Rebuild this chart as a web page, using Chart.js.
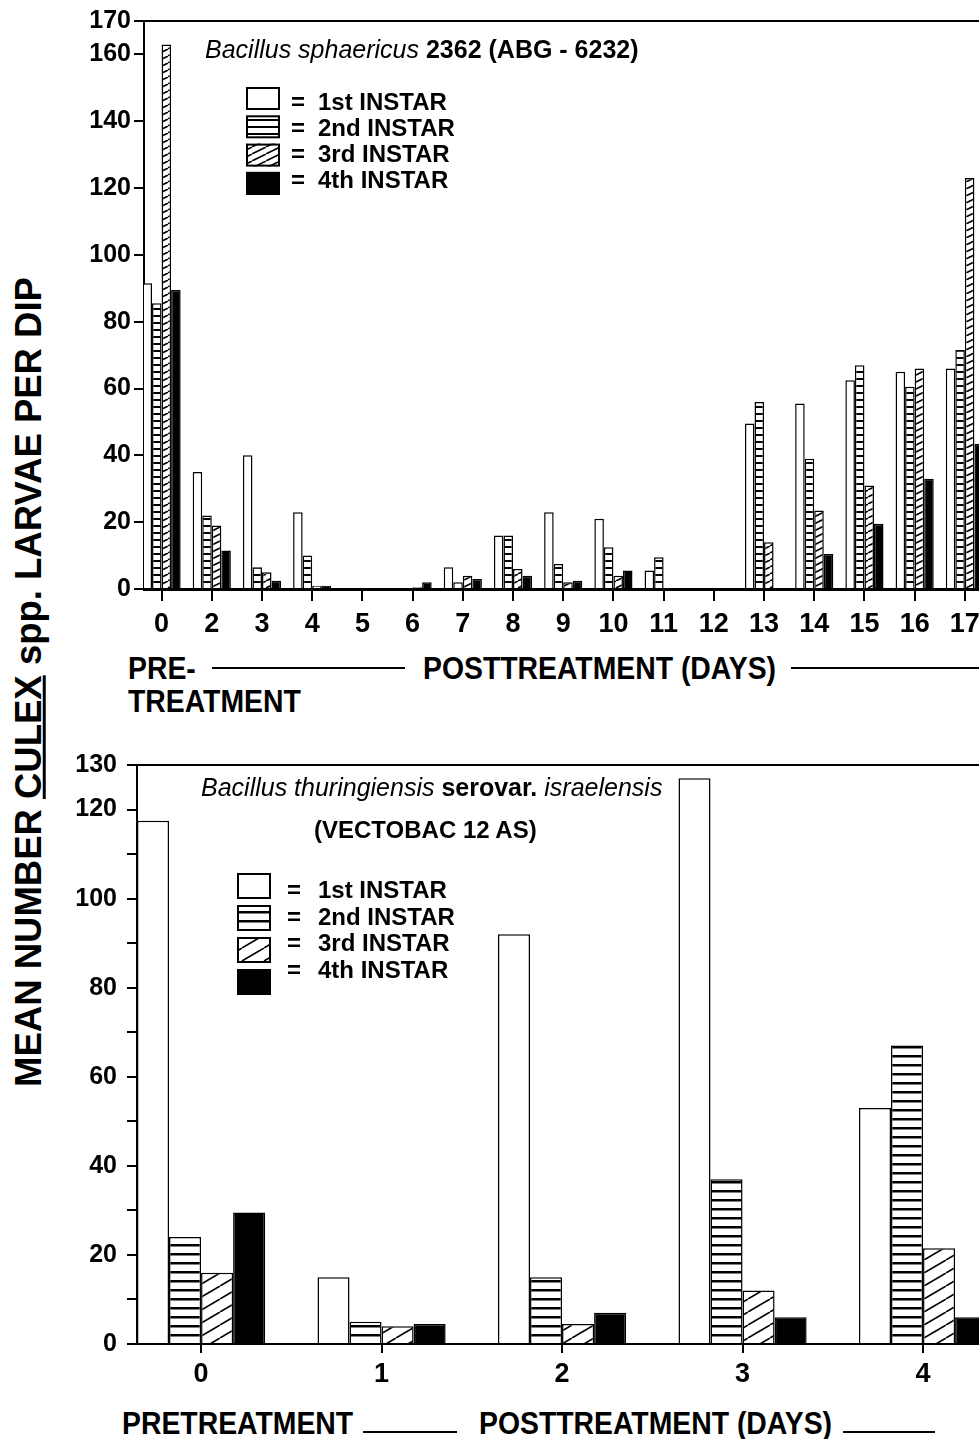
<!DOCTYPE html>
<html>
<head>
<meta charset="utf-8">
<title>Culex larvae per dip</title>
<script src="https://cdn.jsdelivr.net/npm/chart.js@4.4.1/dist/chart.umd.min.js"></script>
<style>
  html, body { margin: 0; padding: 0; background: #fff; }
  body { position: relative; width: 979px; height: 1439px; overflow: hidden;
         font-family: "Liberation Sans", Arial, sans-serif; color: #000; }
  canvas { position: absolute; left: 0; }
  .txt { position: absolute; white-space: nowrap; line-height: 1; }
  /* narrow bold captions under the axes */
  .cap { font-weight: bold; font-size: 31px; transform: scaleX(0.915); transform-origin: 0 0; }
  .rule { position: absolute; height: 2px; background: #000; }
  #ytitle { position: absolute; left: 29px; top: 682px; white-space: nowrap; line-height: 1;
            font-weight: bold; font-size: 36.5px; transform: translate(-50%, -50%) rotate(-90deg); }
</style>
</head>
<body>

<div id="ytitle">MEAN NUMBER <u>CULEX</u> spp. LARVAE PER DIP</div>

<canvas id="sphaericus" width="1000" height="640" style="top:0"></canvas>
<div class="txt" style="left:205px; top:37px; font-size:25px;"><i>Bacillus sphaericus</i> <b>2362 (ABG - 6232)</b></div>
<div class="txt cap" style="left:128px; top:653px;">PRE-</div>
<div class="rule" style="left:212px; width:193px; top:667px;"></div>
<div class="txt cap" style="left:423px; top:653px;">POSTTREATMENT (DAYS)</div>
<div class="rule" style="left:791px; width:200px; top:667px;"></div>
<div class="txt cap" style="left:128px; top:686px;">TREATMENT</div>

<canvas id="thuringiensis" width="1040" height="660" style="top:740px"></canvas>
<div class="txt" style="left:201px; top:775px; font-size:25px;"><i>Bacillus thuringiensis</i> <b>serovar.</b> <i>israelensis</i></div>
<div class="txt" style="left:314px; top:818px; font-size:24px;"><b>(VECTOBAC 12 AS)</b></div>
<div class="txt cap" style="left:122px; top:1408px;">PRETREATMENT</div>
<div class="rule" style="left:363px; width:94px; top:1431px;"></div>
<div class="txt cap" style="left:479px; top:1408px;">POSTTREATMENT (DAYS)</div>
<div class="rule" style="left:843px; width:92px; top:1431px;"></div>

<script>
const instars = ['1st INSTAR', '2nd INSTAR', '3rd INSTAR', '4th INSTAR'];

// B. sphaericus plot: pre-treatment (0) and post-treatment days
const spDays = ['0', '2', '3', '4', '5', '6', '7', '8', '9', '10', '11', '12', '13', '14', '15', '16', '17'];
const spFirst  = [91.5, 35, 40, 23, 0, 0, 6.5, 16, 23, 21, 5.5, 0, 49.5, 55.5, 62.5, 65, 66];
const spSecond = [85.5, 22, 6.5, 10, 0, 0, 2, 16, 7.5, 12.5, 9.5, 0, 56, 39, 67, 60.5, 71.5];
const spThird  = [163, 19, 5, 1, 0, 0.5, 4, 6, 2, 4, 0, 0, 14, 23.5, 31, 66, 123];
const spFourth = [89.5, 11.5, 2.5, 1, 0, 2, 3, 4, 2.5, 5.5, 0, 0, 0, 10.5, 19.5, 33, 43.5];
const spTicks  = [0, 20, 40, 60, 80, 100, 120, 140, 160, 170];

// B. thuringiensis israelensis plot
const btiDays   = ['0', '1', '2', '3', '4'];
const btiFirst  = [117.5, 15, 92, 127, 53];
const btiSecond = [24, 5, 15, 37, 67];
const btiThird  = [16, 4, 4.5, 12, 21.5];
const btiFourth = [29.5, 4.5, 7, 6, 6];
const btiTicks  = [0, 10, 20, 30, 40, 50, 60, 70, 80, 90, 100, 110, 120, 130];
const btiLabels = [0, 20, 40, 60, 80, 100, 120, 130];

function stripes(ctx, h, line) {
  const c = document.createElement('canvas');
  c.width = 8; c.height = h;
  const g = c.getContext('2d');
  g.fillStyle = '#fff'; g.fillRect(0, 0, 8, h);
  g.fillStyle = '#000'; g.fillRect(0, 0, 8, line);
  return ctx.createPattern(c, 'repeat');
}

function hatch(ctx, w, h, line) {
  const c = document.createElement('canvas');
  c.width = w; c.height = h;
  const g = c.getContext('2d');
  g.fillStyle = '#fff'; g.fillRect(0, 0, w, h);
  g.strokeStyle = '#000'; g.lineWidth = line;
  g.beginPath();
  for (const dx of [-w, 0, w]) { g.moveTo(dx, h); g.lineTo(dx + w, 0); }
  g.stroke();
  return ctx.createPattern(c, 'repeat');
}

// top and right edges of the plot box
const frame = {
  id: 'frame',
  afterDraw(chart) {
    const { ctx, chartArea: a } = chart;
    ctx.save();
    ctx.strokeStyle = '#000';
    ctx.lineWidth = 2;
    ctx.beginPath();
    ctx.moveTo(a.left, a.top);
    ctx.lineTo(a.right, a.top);
    ctx.lineTo(a.right, a.bottom);
    ctx.stroke();
    ctx.restore();
  }
};

// "box = label" key drawn inside the plot
const instarKey = {
  id: 'instarKey',
  afterDraw(chart, args, o) {
    const ctx = chart.ctx;
    ctx.save();
    ctx.font = o.font;
    ctx.textBaseline = 'alphabetic';
    chart.data.datasets.forEach((ds, i) => {
      const by = o.y + i * o.boxStep;
      ctx.fillStyle = ds.backgroundColor;
      ctx.fillRect(o.x, by, o.boxW, o.boxH);
      ctx.strokeStyle = '#000';
      ctx.lineWidth = 2;
      ctx.strokeRect(o.x + 1, by + 1, o.boxW - 2, o.boxH - 2);
      ctx.fillStyle = '#000';
      const ty = o.baseY + i * o.textStep;
      ctx.fillText('=', o.eqX, ty);
      ctx.fillText(ds.label, o.textX, ty);
    });
    ctx.restore();
  }
};

const tickFont = { family: '"Liberation Sans", Arial, sans-serif', size: 25, weight: 'bold' };
const dayFont = { family: '"Liberation Sans", Arial, sans-serif', size: 27, weight: 'bold' };

function instarChart(id, s) {
  const canvas = document.getElementById(id);
  const ctx = canvas.getContext('2d');
  const fills = ['#fff', stripes(ctx, s.stripeH, s.stripeW), hatch(ctx, s.hatchW, s.hatchH, 1.6), '#000'];
  const series = [s.first, s.second, s.third, s.fourth];

  return new Chart(ctx, {
    type: 'bar',
    data: {
      datasets: series.map((vals, k) => ({
        label: instars[k],
        data: vals.map((v, i) => ({ x: i, y: v })),
        backgroundColor: fills[k],
        borderColor: '#000',
        borderWidth: 1.5,
        categoryPercentage: s.catPct,
        barPercentage: 1
      }))
    },
    options: {
      responsive: false,
      animation: false,
      layout: { padding: { top: s.padTop, left: 0, right: 0, bottom: 0 } },
      plugins: {
        legend: { display: false },
        tooltip: { enabled: false },
        instarKey: s.key
      },
      scales: {
        x: {
          type: 'linear',
          min: s.xMin,
          max: s.xMax,
          offset: false,
          z: 1,
          afterBuildTicks: sc => { sc.ticks = s.days.map((d, i) => ({ value: i })); },
          afterFit: sc => { sc.height = s.xAxisH; },
          ticks: {
            color: '#000', font: dayFont, padding: s.xPad,
            autoSkip: false, maxRotation: 0,
            callback: v => s.days[v]
          },
          grid: { drawOnChartArea: false, offset: false, color: '#000', lineWidth: 2, tickLength: s.xTick },
          border: { color: '#000', width: s.xBorder }
        },
        y: {
          min: 0,
          max: s.yMax,
          afterBuildTicks: sc => { sc.ticks = s.yTicks.map(v => ({ value: v })); },
          afterFit: sc => { sc.width = s.axisLeft; },
          ticks: {
            color: '#000', font: tickFont, padding: s.yPad,
            callback: v => s.yLabels.includes(v) ? String(v) : ''
          },
          grid: { drawOnChartArea: false, color: '#000', lineWidth: 2, tickLength: 10 },
          border: { color: '#000', width: 2 }
        }
      }
    },
    plugins: [frame, instarKey]
  });
}

window.onload = () => {
  instarChart('sphaericus', {
    days: spDays, first: spFirst, second: spSecond, third: spThird, fourth: spFourth,
    yMax: 170, yTicks: spTicks, yLabels: spTicks,
    axisLeft: 144, padTop: 21, xAxisH: 51,
    xMin: -0.35, xMax: 16.7, catPct: 0.76,
    xTick: 12, xPad: 7, xBorder: 3, yPad: 3,
    stripeH: 7, stripeW: 2, hatchW: 14, hatchH: 7,
    key: { x: 246, y: 87, boxW: 34, boxH: 23, boxStep: 28.3, eqX: 291, textX: 318,
           baseY: 110, textStep: 26, font: 'bold 24px "Liberation Sans", Arial, sans-serif' }
  });

  instarChart('thuringiensis', {
    days: btiDays, first: btiFirst, second: btiSecond, third: btiThird, fourth: btiFourth,
    yMax: 130, yTicks: btiTicks, yLabels: btiLabels,
    axisLeft: 137, padTop: 24, xAxisH: 56,
    xMin: -0.355, xMax: 4.648, catPct: 0.71,
    xTick: 9, xPad: 5, xBorder: 2, yPad: 10,
    stripeH: 9, stripeW: 2.5, hatchW: 22, hatchH: 13,
    key: { x: 237, y: 133, boxW: 34, boxH: 26, boxStep: 32, eqX: 287, textX: 318,
           baseY: 158, textStep: 26.7, font: 'bold 24px "Liberation Sans", Arial, sans-serif' }
  });
};
</script>
</body>
</html>
